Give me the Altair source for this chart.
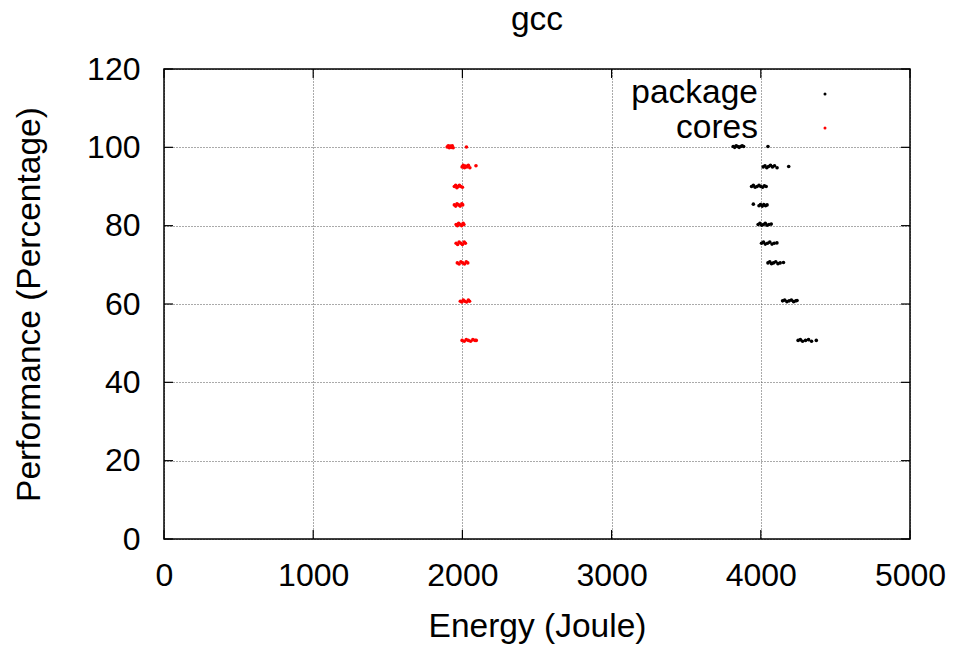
import altair as alt
import pandas as pd

# ---- data ----
package_x = [3815, 3825, 3835, 3845, 3855, 3865, 3875, 3885, 4048,
             4016, 4028, 4040, 4052, 4065, 4078, 4092, 4109, 4187,
             3938, 3950, 3962, 3975, 3988, 4000, 4012, 4024, 4036,
             3950, 3988, 3998, 4010, 4020, 4032, 4042,
             3982, 3994, 4006, 4018, 4030, 4042, 4055, 4070,
             4005, 4018, 4030, 4045, 4060, 4075, 4090, 4108,
             4048, 4060, 4072, 4085, 4100, 4115, 4130, 4152,
             4146, 4160, 4175, 4190, 4205, 4220, 4235, 4243,
             4250, 4265, 4280, 4300, 4320, 4340, 4372]
package_y = [100.2, 100.0, 100.4, 100.2, 100.0, 100.2, 100.4, 100.2, 100.2,
             95.0, 95.3, 94.8, 95.1, 95.4, 95.0, 95.3, 94.8, 95.1,
             90.0, 90.3, 89.8, 90.0, 90.3, 90.0, 89.8, 90.2, 90.0,
             85.5, 85.1, 85.4, 85.0, 85.4, 85.1, 85.3,
             80.3, 80.6, 80.1, 80.3, 80.6, 80.1, 80.3, 80.4,
             75.5, 75.8, 75.3, 75.5, 75.8, 75.3, 75.5, 75.6,
             70.5, 70.8, 70.3, 70.5, 70.8, 70.3, 70.5, 70.6,
             60.8, 61.0, 60.6, 60.8, 61.0, 60.6, 60.8, 60.9,
             50.7, 50.9, 50.5, 50.7, 50.9, 50.5, 50.7]
cores_x = [1898, 1905, 1912, 1918, 1925, 1932, 1938, 2027,
           1998, 2006, 2014, 2022, 2030, 2040, 2050, 2091,
           1946, 1955, 1963, 1972, 1980, 1990, 2000,
           1946, 1955, 1964, 1975, 1985, 1996, 2002,
           1958, 1966, 1975, 1985, 1995, 2005, 2010,
           1958, 1968, 1978, 1990, 2000, 2012, 2020,
           1966, 1978, 1990, 2002, 2014, 2026, 2036,
           1986, 1996, 2006, 2016, 2028, 2040, 2048,
           1998, 2012, 2026, 2040, 2055, 2070, 2085, 2093]
cores_y = [100.1, 100.4, 99.9, 100.3, 100.0, 100.4, 99.9, 100.1,
           95.0, 95.4, 94.8, 95.2, 95.0, 95.4, 94.8, 95.3,
           90.0, 90.3, 89.7, 90.0, 90.3, 90.0, 89.8,
           85.3, 85.0, 85.6, 85.3, 85.0, 85.6, 85.3,
           80.3, 80.0, 80.6, 80.3, 80.0, 80.6, 80.3,
           75.5, 75.2, 75.8, 75.5, 75.2, 75.8, 75.5,
           70.5, 70.2, 70.8, 70.5, 70.2, 70.8, 70.5,
           60.7, 60.5, 61.0, 60.7, 60.5, 61.0, 60.7,
           50.7, 50.5, 50.9, 50.7, 50.5, 50.9, 50.7, 50.7]
x_ticks = [0, 1000, 2000, 3000, 4000, 5000]
y_ticks = [0, 20, 40, 60, 80, 100, 120]
series_names = ["package", "cores"]
series_colors = ["#000000", "#ff0000"]
chart_title = "gcc"

W, H = 746, 470
FONT = "Liberation Sans"
FS = 32      # tick labels
FT = 33.5    # titles and legend
DOT = 13

df = pd.DataFrame({
    "energy": package_x + cores_x,
    "perf": package_y + cores_y,
    "series": ["package"] * len(package_x) + ["cores"] * len(cores_x),
})

xs = alt.Scale(domain=[0, 5000], nice=False, zero=False)
ys = alt.Scale(domain=[0, 120], nice=False, zero=False)

x_axis = alt.Axis(
    title="Energy (Joule)", values=x_ticks, format="d", grid=True,
    gridColor="#555555", gridDash=[1, 2], gridWidth=1,
    ticks=False, tickSize=0, domain=False, labelFlush=False,
    labelFont=FONT, labelFontSize=FS, labelColor="black",
    labelBaseline="alphabetic", labelPadding=46,
    titleFont=FONT, titleFontSize=FT, titleFontWeight="normal",
    titleColor="black", titleBaseline="alphabetic", titleY=97, titleX=W / 2)
y_axis = alt.Axis(
    title="Performance (Percentage)", values=y_ticks, format="d", grid=True,
    gridColor="#555555", gridDash=[1, 2], gridWidth=1,
    ticks=False, tickSize=0, domain=False, labelFlush=False,
    labelFont=FONT, labelFontSize=FS, labelColor="black",
    labelBaseline="middle", labelPadding=24,
    titleFont=FONT, titleFontSize=FT, titleFontWeight="normal",
    titleColor="black", titleAngle=270, titleAlign="center",
    titleBaseline="middle", titleX=-135, titleY=H / 2)

points = alt.Chart(df).mark_circle(size=DOT, opacity=1).encode(
    x=alt.X("energy:Q", scale=xs, axis=x_axis),
    y=alt.Y("perf:Q", scale=ys, axis=y_axis),
    color=alt.Color("series:N", scale=alt.Scale(domain=series_names, range=series_colors), legend=None),
)

ytick_df = pd.DataFrame({"perf": y_ticks})
xtick_df = pd.DataFrame({"energy": x_ticks})
tick_style = dict(color="black", strokeWidth=1.2)

left_ticks = alt.Chart(ytick_df).mark_rule(**tick_style).encode(
    y=alt.Y("perf:Q", scale=ys, axis=y_axis), x=alt.value(0), x2=alt.value(9))
right_ticks = alt.Chart(ytick_df).mark_rule(**tick_style).encode(
    y=alt.Y("perf:Q", scale=ys, axis=y_axis), x=alt.value(W - 9), x2=alt.value(W))
bottom_ticks = alt.Chart(xtick_df).mark_rule(**tick_style).encode(
    x=alt.X("energy:Q", scale=xs, axis=x_axis), y=alt.value(H - 9), y2=alt.value(H))
top_ticks = alt.Chart(xtick_df).mark_rule(**tick_style).encode(
    x=alt.X("energy:Q", scale=xs, axis=x_axis), y=alt.value(0), y2=alt.value(9))

frame = alt.Chart(pd.DataFrame({"k": [0]})).mark_rect(
    fillOpacity=0, stroke="black", strokeWidth=1.5).encode(
    x=alt.value(0), x2=alt.value(W), y=alt.value(0), y2=alt.value(H))

title_layer = alt.Chart(pd.DataFrame({"t": [chart_title]})).mark_text(
    font=FONT, fontSize=FT, align="center", baseline="alphabetic", color="black").encode(
    text="t:N", x=alt.value(W / 2), y=alt.value(-39))

legend_layers = []
for name, color, ty, dy in [("package", "#000000", 34, 25), ("cores", "#ff0000", 69, 59)]:
    ldf = pd.DataFrame({"label": [name]})
    legend_layers.append(
        alt.Chart(ldf).mark_text(font=FONT, fontSize=FT, align="right",
                                 baseline="alphabetic", color="black").encode(
            text="label:N", x=alt.value(594), y=alt.value(ty)))
    legend_layers.append(
        alt.Chart(ldf).mark_circle(size=9, opacity=1, color=color).encode(
            x=alt.value(661), y=alt.value(dy)))

chart = alt.layer(points, left_ticks, right_ticks, bottom_ticks, top_ticks, frame,
                  title_layer, *legend_layers).properties(
    width=W, height=H,
    autosize=alt.AutoSizeParams(type="none"),
    padding={"left": 164, "top": 69, "right": 46, "bottom": 107},
).configure_view(stroke=None)

chart.save("out.html", embed_options={"renderer": "svg", "actions": False})
